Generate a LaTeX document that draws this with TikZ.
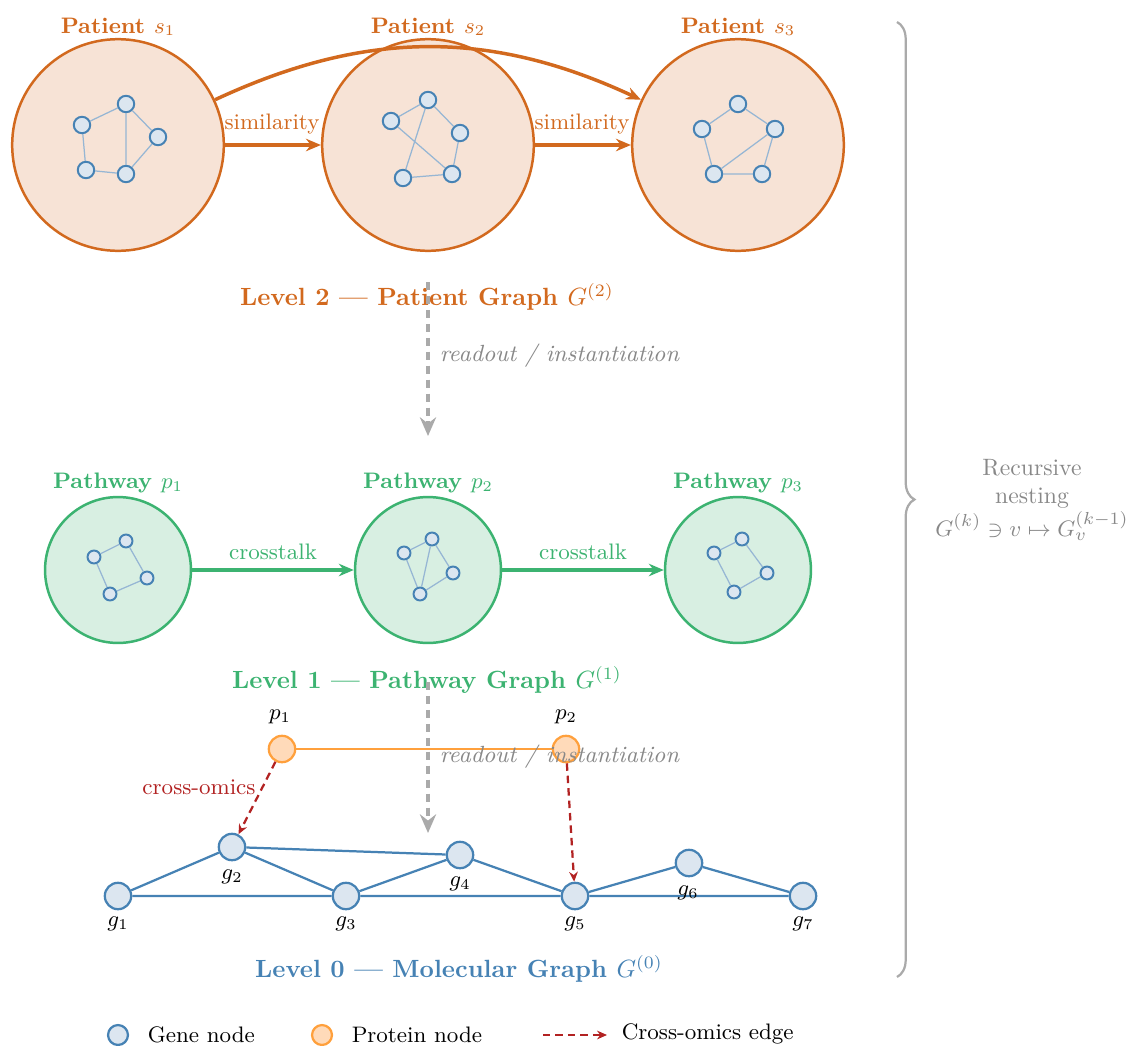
\documentclass[tikz,border=0pt]{standalone}
\usetikzlibrary{arrows.meta,decorations.pathreplacing}
\definecolor{pOr}{RGB}{210,105,30}
\definecolor{pOrF}{RGB}{247,227,214}
\definecolor{pGr}{RGB}{60,179,113}
\definecolor{pGrF}{RGB}{216,239,226}
\definecolor{pBl}{RGB}{70,130,180}
\definecolor{pBlF}{RGB}{220,230,240}
\definecolor{pBlE}{RGB}{150,182,212}
\definecolor{prS}{RGB}{255,160,60}
\definecolor{prF}{RGB}{255,218,185}
\definecolor{cRed}{RGB}{178,34,34}
\definecolor{rdGr}{RGB}{170,170,170}
\definecolor{txGr}{RGB}{136,136,136}
\tikzset{
  patient/.style={circle, draw=pOr, fill=pOrF, line width=1pt, minimum size=85pt, inner sep=0pt},
  pathway/.style={circle, draw=pGr, fill=pGrF, line width=1pt, minimum size=58.6pt, inner sep=0pt},
  mini/.style={circle, draw=pBl, fill=pBlF, line width=0.8pt, minimum size=6.6pt, inner sep=0pt},
  minis/.style={mini, minimum size=5.2pt},
  miniedge/.style={draw=pBlE, line width=0.5pt},
  gene/.style={circle, draw=pBl, fill=pBlF, line width=0.9pt, minimum size=10.6pt, inner sep=0pt},
  protein/.style={circle, draw=prS, fill=prF, line width=0.9pt, minimum size=10.6pt, inner sep=0pt},
  geneedge/.style={draw=pBl, line width=0.9pt},
  simarrow/.style={draw=pOr, line width=1.4pt, -{Stealth[length=6pt,width=5pt]}},
  ctarrow/.style={draw=pGr, line width=1.4pt, -{Stealth[length=6pt,width=5pt]}},
  readout/.style={draw=rdGr, line width=1.6pt, dash pattern=on 3.4pt off 2.2pt, -{Stealth[length=7.5pt,width=6.5pt,inset=2.5pt]}},
  xomics/.style={draw=cRed, line width=0.9pt, dash pattern=on 3pt off 2pt, -{Stealth[length=4pt,width=3.5pt]}},
  lvl/.style={font=\bfseries},
  gl/.style={font=\small, text=black},
  rdl/.style={anchor=west, font=\fontsize{9.4}{11}\selectfont\itshape, text=txGr},
}
\begin{document}
\begin{tikzpicture}[x=0.4016pt, y=-0.4016pt]
\useasboundingbox (0,0) rectangle (1134,1046);

% ---------- Level 2 ----------
\node[patient] (s1) at (118,145) {};
\node[patient] (s2) at (428,145) {};
\node[patient] (s3) at (738,145) {};
\node[font=\small\bfseries, text=pOr] (ls1) at (118,27) {Patient $s_1$};
\node[font=\small\bfseries, text=pOr] (ls2) at (428,27) {Patient $s_2$};
\node[font=\small\bfseries, text=pOr] (ls3) at (738,27) {Patient $s_3$};

% inner graph s1
\node[mini] (a1) at (82,125) {};
\node[mini] (a2) at (126,104) {};
\node[mini] (a3) at (158,137) {};
\node[mini] (a4) at (86,170) {};
\node[mini] (a5) at (126,174) {};
\draw[miniedge] (a1) -- (a2) (a1) -- (a4) (a4) -- (a5) (a2) -- (a5) (a2) -- (a3) (a3) -- (a5);
% inner graph s2
\node[mini] (b1) at (391,121) {};
\node[mini] (b2) at (428,100) {};
\node[mini] (b3) at (460,133) {};
\node[mini] (b4) at (403,178) {};
\node[mini] (b5) at (452,174) {};
\draw[miniedge] (b1) -- (b2) (b2) -- (b3) (b3) -- (b5) (b5) -- (b4) (b2) -- (b4) (b1) -- (b5);
% inner graph s3
\node[mini] (c1) at (702,129) {};
\node[mini] (c2) at (738,104) {};
\node[mini] (c3) at (775,129) {};
\node[mini] (c4) at (714,174) {};
\node[mini] (c5) at (762,174) {};
\draw[miniedge] (c1) -- (c2) (c2) -- (c3) (c1) -- (c4) (c4) -- (c5) (c5) -- (c3) (c4) -- (c3);

\draw[simarrow] (s1) -- (s2);
\draw[simarrow] (s2) -- (s3);
\draw[simarrow] (s1) to[bend left=25] (s3);
\node[font=\small, text=pOr] (sim1) at (272,124) {similarity};
\node[font=\small, text=pOr] (sim2) at (582,124) {similarity};

\node[lvl, text=pOr] (L2) at (427,297) {Level 2 --- Patient Graph $G^{(2)}$};
\coordinate (ra1) at (428,282);
\coordinate (rb1) at (428,436);
\draw[readout] (ra1) -- (rb1);
\node[rdl] (rl1) at (431,356) {readout / instantiation};

% ---------- Level 1 ----------
\node[pathway] (p1) at (118,570) {};
\node[pathway] (p2) at (428,570) {};
\node[pathway] (p3) at (738,570) {};
\node[font=\small\bfseries, text=pGr] (lp1) at (118,483) {Pathway $p_1$};
\node[font=\small\bfseries, text=pGr] (lp2) at (428,483) {Pathway $p_2$};
\node[font=\small\bfseries, text=pGr] (lp3) at (738,483) {Pathway $p_3$};

\node[minis] (d1) at (94,557) {};
\node[minis] (d2) at (126,541) {};
\node[minis] (d3) at (147,578) {};
\node[minis] (d4) at (110,594) {};
\draw[miniedge] (d1) -- (d2) (d2) -- (d3) (d3) -- (d4) (d4) -- (d1);
\node[minis] (e1) at (404,553) {};
\node[minis] (e2) at (432,539) {};
\node[minis] (e3) at (453,573) {};
\node[minis] (e4) at (420,594) {};
\draw[miniedge] (e1) -- (e2) (e2) -- (e3) (e3) -- (e4) (e4) -- (e1) (e2) -- (e4);
\node[minis] (f1) at (714,553) {};
\node[minis] (f2) at (742,539) {};
\node[minis] (f3) at (767,573) {};
\node[minis] (f4) at (734,592) {};
\draw[miniedge] (f1) -- (f2) (f2) -- (f3) (f3) -- (f4) (f4) -- (f1);

\draw[ctarrow] (p1) -- (p2);
\draw[ctarrow] (p2) -- (p3);
\node[font=\small, text=pGr] (ct1) at (273,552) {crosstalk};
\node[font=\small, text=pGr] (ct2) at (583,552) {crosstalk};

\node[lvl, text=pGr] (L1) at (427,680) {Level 1 --- Pathway Graph $G^{(1)}$};

% ---------- Level 0 ----------
\node[protein] (q1) at (282,749) {};
\node[protein] (q2) at (566,749) {};
\draw[draw=prS, line width=1pt] (q1) -- (q2);
\node[gl] (lq1) at (280,717) {$p_1$};
\node[gl] (lq2) at (566,717) {$p_2$};

\coordinate (ra2) at (428,682);
\coordinate (rb2) at (428,833);
\draw[readout] (ra2) -- (rb2);

\node[gene] (g1) at (118,896) {};
\node[gene] (g2) at (232,847) {};
\node[gene] (g3) at (346,896) {};
\node[gene] (g4) at (460,855) {};
\node[gene] (g5) at (575,896) {};
\node[gene] (g6) at (689,863) {};
\node[gene] (g7) at (803,896) {};
\draw[geneedge] (g1) -- (g3) (g3) -- (g5) (g5) -- (g7)
  (g1) -- (g2) (g2) -- (g3) (g2) -- (g4) (g3) -- (g4) (g4) -- (g5)
  (g5) -- (g6) (g6) -- (g7);
\node[gl] (lg1) at (118,924) {$g_1$};
\node[gl] (lg2) at (232,877) {$g_2$};
\node[gl] (lg3) at (346,924) {$g_3$};
\node[gl] (lg4) at (460,884) {$g_4$};
\node[gl] (lg5) at (575,924) {$g_5$};
\node[gl] (lg6) at (688,893) {$g_6$};
\node[gl] (lg7) at (803,924) {$g_7$};

\draw[xomics] (q1) -- (g2);
\draw[xomics] (q2) -- (g5);
\node[font=\small, text=cRed] (xo) at (199,787) {cross-omics};

\node[rdl] (rl2) at (431,757) {readout / instantiation};

\node[lvl, text=pBl] (L0) at (459,969) {Level 0 --- Molecular Graph $G^{(0)}$};

% ---------- brace ----------
\coordinate (br1) at (897,22);
\coordinate (br2) at (897,977);
\draw[decorate, decoration={brace, amplitude=7pt}, draw=rdGr, line width=0.9pt] (br1) -- (br2);
\node[align=center, text=txGr, font=\fontsize{9.5}{11.2}\selectfont] (rec) at (1032,500) {Recursive\\nesting\\$G^{(k)} \ni v \mapsto G_v^{(k-1)}$};

% ---------- legend ----------
\node[gene, minimum size=8pt] (lgG) at (118,1035) {};
\node[anchor=west, font=\small] (lgGt) at (139,1035) {Gene node};
\node[protein, minimum size=8pt] (lgP) at (322,1035) {};
\node[anchor=west, font=\small] (lgPt) at (343,1035) {Protein node};
\coordinate (lx1) at (543,1035);
\coordinate (lx2) at (607,1035);
\draw[xomics] (lx1) -- (lx2);
\node[anchor=west, font=\small] (lgXt) at (613,1034) {Cross-omics edge};
\end{tikzpicture}
\end{document}
